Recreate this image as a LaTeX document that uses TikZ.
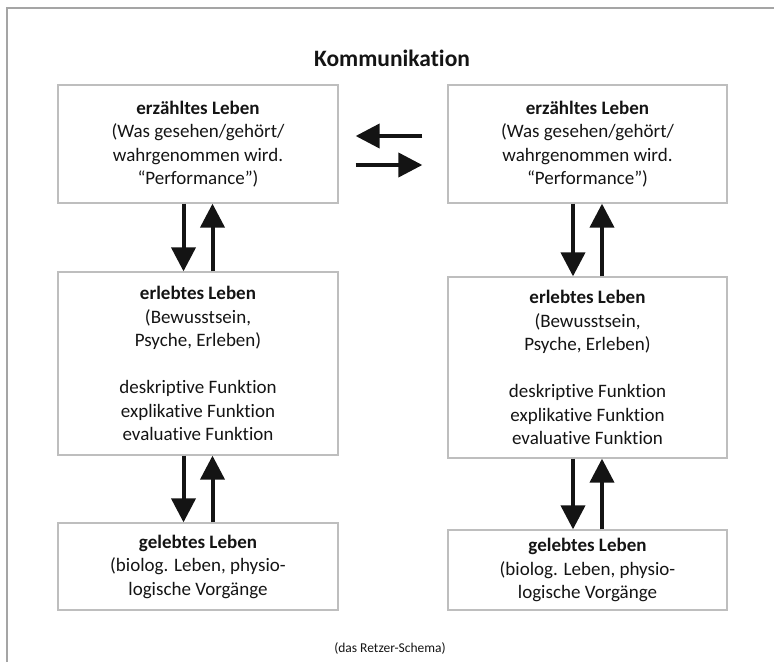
\documentclass[tikz,border=0pt]{standalone}
\usepackage{fontspec}
\setmainfont{Carlito}[Ligatures=NoCommon, Contextuals=NoAlternate]
\usetikzlibrary{arrows.meta}
\definecolor{boxgray}{RGB}{190,190,190}
\definecolor{framegray}{RGB}{165,165,165}
\definecolor{txt}{RGB}{20,20,20}
\begin{document}
\begin{tikzpicture}[x=1pt,y=-1pt,
  box/.style={draw=boxgray, line width=1.3pt, rectangle, align=center, inner sep=0pt,
    font=\fontsize{19}{23.5}\selectfont, text=txt},
  arr/.style={line width=4pt, draw=black!92, -{Triangle[width=24pt,length=24pt]}}]
\useasboundingbox (0,0) rectangle (774,662);
\draw[framegray, line width=1.5pt] (7,662) -- (7,8) -- (774,8);
\node[text=txt, font=\fontsize{23.5}{28}\selectfont\bfseries] (title) at (392,58) {Kommunikation};
% left column
\node[box, minimum width=280pt, minimum height=118pt] (tl) at (198,144)
  {\textbf{erzähltes Leben}\\(Was gesehen/gehört/\\wahrgenommen wird.\\“Performance”)};
\node[box, minimum width=280pt, minimum height=183pt] (ml) at (198,363.5)
  {\textbf{erlebtes Leben}\\(Bewusstsein,\\Psyche, Erleben)\\[23.5pt]deskriptive Funktion\\explikative Funktion\\evaluative Funktion};
\node[box, minimum width=280pt, minimum height=87pt] (bl) at (198,566.5)
  {\textbf{gelebtes Leben}\\(biolog. Leben, physio-\\logische Vorgänge};
% right column
\node[box, minimum width=279pt, minimum height=118pt] (tr) at (587.5,144)
  {\textbf{erzähltes Leben}\\(Was gesehen/gehört/\\wahrgenommen wird.\\“Performance”)};
\node[box, minimum width=279pt, minimum height=181pt] (mr) at (587.5,367.5)
  {\textbf{erlebtes Leben}\\(Bewusstsein,\\Psyche, Erleben)\\[23.5pt]deskriptive Funktion\\explikative Funktion\\evaluative Funktion};
\node[box, minimum width=279pt, minimum height=80pt] (br) at (587.5,570)
  {\textbf{gelebtes Leben}\\(biolog. Leben, physio-\\logische Vorgänge};
% vertical arrows
\draw[arr] ([xshift=-14.5pt]tl.south) -- ([xshift=-14.5pt]ml.north);
\draw[arr] ([xshift=14.5pt]ml.north) -- ([xshift=14.5pt]tl.south);
\draw[arr] ([xshift=-14.5pt]ml.south) -- ([xshift=-14.5pt]bl.north);
\draw[arr] ([xshift=14.5pt]bl.north) -- ([xshift=14.5pt]ml.south);
\draw[arr] ([xshift=-14.5pt]tr.south) -- ([xshift=-14.5pt]mr.north);
\draw[arr] ([xshift=14.5pt]mr.north) -- ([xshift=14.5pt]tr.south);
\draw[arr] ([xshift=-14.5pt]mr.south) -- ([xshift=-14.5pt]br.north);
\draw[arr] ([xshift=14.5pt]br.north) -- ([xshift=14.5pt]mr.south);
% horizontal arrows
\draw[arr] ([xshift=-25pt,yshift=8pt]tr.west) -- ([xshift=17pt,yshift=8pt]tl.east);
\draw[arr] ([xshift=17pt,yshift=-21pt]tl.east) -- ([xshift=-25pt,yshift=-21pt]tr.west);
\node[text=txt, font=\fontsize{13.5}{16}\selectfont] (cap) at (390,648) {(das Retzer-Schema)};
\end{tikzpicture}
\end{document}
